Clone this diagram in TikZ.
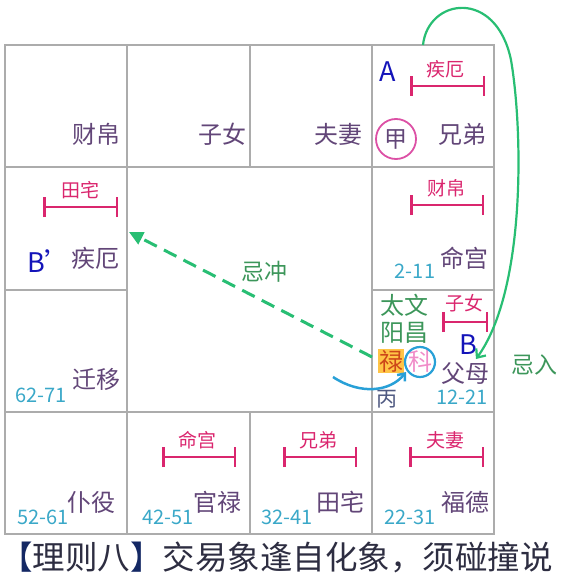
\documentclass[tikz,border=0pt]{standalone}
\usepackage{fontspec}
\setmainfont{Noto Sans CJK SC}
\usetikzlibrary{arrows.meta}
\definecolor{gridc}{RGB}{172,172,172}
\definecolor{palc}{RGB}{98,70,120}
\definecolor{agec}{RGB}{58,168,200}
\definecolor{barc}{RGB}{218,38,110}
\definecolor{blc}{RGB}{20,20,185}
\definecolor{starc}{RGB}{60,150,90}
\definecolor{luc}{RGB}{205,70,25}
\definecolor{lubg}{RGB}{255,196,70}
\definecolor{kec}{RGB}{240,140,200}
\definecolor{ringc}{RGB}{40,160,215}
\definecolor{jiac}{RGB}{220,80,165}
\definecolor{binc}{RGB}{80,90,130}
\definecolor{arrc}{RGB}{40,190,115}
\definecolor{titc}{RGB}{45,45,65}
\definecolor{brkc}{RGB}{20,40,100}
\tikzset{
  gridline/.style={draw=gridc, line width=2pt},
  palace/.style={text=palc, font=\fontsize{24}{24}\selectfont, inner sep=0pt},
  age/.style={text=agec, font=\fontsize{20}{20}\selectfont, inner sep=0pt},
  barlabel/.style={text=barc, font=\fontsize{19}{19}\selectfont, inner sep=0pt},
  barline/.style={draw=barc, line width=2.5pt, {Bar[width=20pt]}-{Bar[width=20pt]}},
  letter/.style={text=blc, font=\fontsize{27}{27}\selectfont, inner sep=0pt},
  star/.style={text=starc, font=\fontsize{24}{24}\selectfont, inner sep=0pt},
  note/.style={text=starc, font=\fontsize{23}{23}\selectfont, inner sep=0pt},
  greenarrow/.style={draw=arrc, line width=2.2pt, -{Straight Barb[length=7pt,width=12pt]}},
  dasharrow/.style={draw=arrc, line width=3pt, dash pattern=on 14pt off 8pt, -{Triangle[length=14pt,width=13pt]}},
  bluearrow/.style={draw=ringc, line width=2.5pt, -{Straight Barb[length=6pt,width=10pt]}},
}
\begin{document}
\begin{tikzpicture}[x=1pt,y=-1pt]
\useasboundingbox (0,0) rectangle (560,580);
% grid
\draw[gridline] (5,45) rectangle (494,534);
\draw[gridline] (127,45) -- (127,534);
\draw[gridline] (372,45) -- (372,534);
\draw[gridline] (5,167) -- (494,167);
\draw[gridline] (5,412) -- (494,412);
\draw[gridline] (250,45) -- (250,167);
\draw[gridline] (250,412) -- (250,534);
\draw[gridline] (5,290) -- (127,290);
\draw[gridline] (372,290) -- (494,290);

% palace names
\node[palace] (caibo) at (96,134) {财帛};
\node[palace] (zinv) at (222,134) {子女};
\node[palace] (fuqi) at (338,134) {夫妻};
\node[palace] (xiongdi) at (462,134) {兄弟};
\node[palace] (jiee) at (95,258) {疾厄};
\node[palace] (minggong) at (464,258) {命宫};
\node[palace] (qianyi) at (96,379) {迁移};
\node[palace] (fumu) at (465,373) {父母};
\node[palace] (puyi) at (91,502) {仆役};
\node[palace] (guanlu) at (217,502) {官禄};
\node[palace] (tianzhai) at (340,502) {田宅};
\node[palace] (fude) at (465,502) {福德};

% ages
\node[age] (a1) at (415,271) {2-11};
\node[age] (a2) at (462,397) {12-21};
\node[age] (a3) at (41,395) {62-71};
\node[age] (a4) at (43,517) {52-61};
\node[age] (a5) at (168,517) {42-51};
\node[age] (a6) at (287,517) {32-41};
\node[age] (a7) at (410,517) {22-31};

% bars
\node[barlabel] (bl1) at (445,69) {疾厄};
\coordinate (b1l) at (410,86); \coordinate (b1r) at (485,86);
\draw[barline] (b1l) -- (b1r);
\node[barlabel] (bl2) at (80,190) {田宅};
\coordinate (b2l) at (43,207); \coordinate (b2r) at (118,207);
\draw[barline] (b2l) -- (b2r);
\node[barlabel] (bl3) at (446,188) {财帛};
\coordinate (b3l) at (410,205); \coordinate (b3r) at (484,205);
\draw[barline] (b3l) -- (b3r);
\node[barlabel] (bl4) at (464,303) {子女};
\coordinate (b4l) at (442,322); \coordinate (b4r) at (488,322);
\draw[barline] (b4l) -- (b4r);
\node[barlabel] (bl5) at (197,440) {命宫};
\coordinate (b5l) at (162,457); \coordinate (b5r) at (236,457);
\draw[barline] (b5l) -- (b5r);
\node[barlabel] (bl6) at (318,440) {兄弟};
\coordinate (b6l) at (283,457); \coordinate (b6r) at (357,457);
\draw[barline] (b6l) -- (b6r);
\node[barlabel] (bl7) at (445,440) {夫妻};
\coordinate (b7l) at (409,457); \coordinate (b7r) at (484,457);
\draw[barline] (b7l) -- (b7r);

% letters
\node[letter] (A) at (388,72) {A};
\node[letter] (B) at (468,345) {B};
\node[letter, anchor=west] (Bp) at (27,261) {B’};

% jia
\node[circle, draw=jiac, line width=1.8pt, minimum size=40pt, inner sep=0pt, text=palc, font=\fontsize{23}{23}\selectfont] (jia) at (396,139) {甲};

% stars
\node[star] (taiwen) at (404,305) {太文};
\node[star] (yangchang) at (404,333) {阳昌};
\node[text=luc, fill=lubg, inner sep=1pt, font=\fontsize{24}{24}\selectfont] (lu) at (391,361) {禄};
\node[text=kec, inner sep=0pt, font=\fontsize{24}{24}\selectfont] (ke) at (420,361) {科};
\node[circle, draw=ringc, line width=2.2pt, minimum size=30pt, inner sep=0pt] (ring) at (420,362) {};
\node[text=binc, inner sep=0pt, font=\fontsize{21}{21}\selectfont] (bing) at (387,399) {丙};

% notes
\node[note] (jichong) at (264,272) {忌冲};
\node[note] (jiru) at (534,365) {忌入};

% arrows
\coordinate (gs) at (423,45);
\coordinate (gm) at (511,60);
\coordinate (ge) at (476,359);
\draw[greenarrow] (gs) .. controls (428,-2) and (496,-12) .. (gm) .. controls (523,130) and (526,290) .. (ge);

\coordinate (ds) at (372,357);
\coordinate (de) at (129,232);
\draw[dasharrow] (ds) -- (de);

\coordinate (bs) at (333,377);
\coordinate (be) at (406,372);
\draw[bluearrow] (bs) .. controls (360,395) and (390,392) .. (be);

% title
\node[anchor=west, inner sep=0pt, text=titc, font=\fontsize{32.5}{32.5}\selectfont] (title) at (0,557) {\textcolor{brkc}{【}理则八\textcolor{brkc}{】}交易象逢自化象，须碰撞说};
\end{tikzpicture}
\end{document}
